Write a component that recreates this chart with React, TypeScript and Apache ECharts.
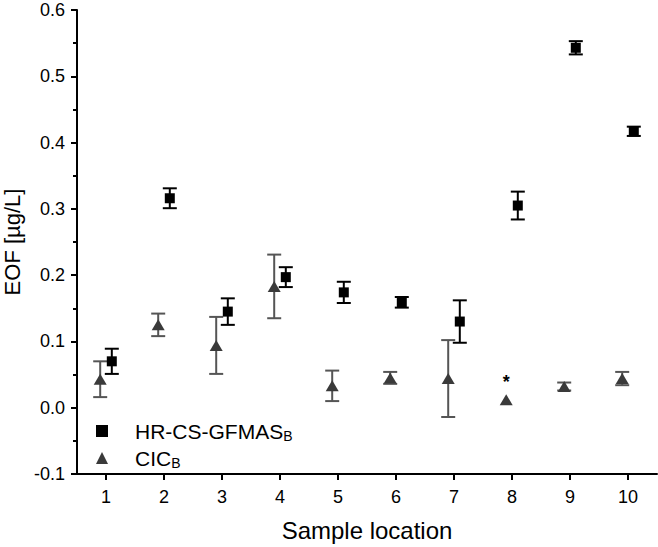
import React, { useEffect, useRef } from "react";
import * as echarts from "echarts";

const categories = [1, 2, 3, 4, 5, 6, 7, 8, 9, 10];
const hrcsValues = [0.07, 0.316, 0.145, 0.197, 0.174, 0.159, 0.13, 0.305, 0.543, 0.417];
const hrcsErrors = [0.019, 0.015, 0.02, 0.015, 0.016, 0.008, 0.032, 0.021, 0.01, 0.007];
const cicValues = [0.043, 0.125, 0.094, 0.183, 0.033, 0.045, 0.044, 0.012, 0.032, 0.044];
const cicErrors = [0.027, 0.017, 0.043, 0.048, 0.023, 0.009, 0.058, 0, 0.006, 0.01];
const cicNotes = ["", "", "", "", "", "", "", "*", "", ""];
const yTicks = [-0.1, 0.0, 0.1, 0.2, 0.3, 0.4, 0.5, 0.6];
const seriesNames = ["HR-CS-GFMAS", "CIC"];
const seriesSub = "B";

const FONT = "'Liberation Sans', Arial, Helvetica, sans-serif";
const HR_OFFSET = 0.1;
const CIC_OFFSET = -0.1;

function errRender(color: string, width: number) {
  return (params: any, api: any) => {
    const x = api.value(0);
    const lo = api.value(1);
    const hi = api.value(2);
    if (hi === lo) return { type: "group", children: [] };
    const t = api.coord([x, hi]);
    const b = api.coord([x, lo]);
    const hw = 7;
    const style = { stroke: color, lineWidth: width };
    return {
      type: "group",
      children: [
        { type: "line", shape: { x1: t[0], y1: t[1], x2: b[0], y2: b[1] }, style },
        { type: "line", shape: { x1: t[0] - hw, y1: t[1], x2: t[0] + hw, y2: t[1] }, style },
        { type: "line", shape: { x1: b[0] - hw, y1: b[1], x2: b[0] + hw, y2: b[1] }, style },
      ],
    };
  };
}

export default function App() {
  const ref = useRef<HTMLDivElement>(null);
  useEffect(() => {
    if (!ref.current) return;
    const chart = echarts.init(ref.current, undefined, { renderer: "svg" });
    const hrData = categories.map((c, i) => [c + HR_OFFSET, hrcsValues[i]]);
    const cicData = categories.map((c, i) => ({
      value: [c + CIC_OFFSET, cicValues[i]],
      label: cicNotes[i]
        ? {
            show: true,
            formatter: cicNotes[i],
            position: "top",
            distance: 3,
            fontSize: 18,
            fontWeight: "bold",
            color: "#000",
            fontFamily: FONT,
          }
        : { show: false },
    }));
    const hrErr = categories.map((c, i) => [c + HR_OFFSET, hrcsValues[i] - hrcsErrors[i], hrcsValues[i] + hrcsErrors[i]]);
    const cicErr = categories.map((c, i) => [c + CIC_OFFSET, cicValues[i] - cicErrors[i], cicValues[i] + cicErrors[i]]);

    chart.setOption({
      animation: false,
      backgroundColor: "#fff",
      textStyle: { fontFamily: FONT, color: "#000" },
      grid: { left: 77, right: 1, top: 10, bottom: 73, containLabel: false, outerBoundsMode: "none" },
      legend: {
        orient: "vertical",
        left: 96,
        top: 419,
        padding: 0,
        itemWidth: 12,
        itemHeight: 12,
        itemGap: 3,
        selectedMode: false,
        data: [
          { name: seriesNames[0], icon: "rect" },
          { name: seriesNames[1], icon: "triangle" },
        ],
        formatter: (name: string) => `{m|${name}}{s|${seriesSub}}`,
        textStyle: {
          padding: [0, 0, 0, 22],
          rich: {
            m: { fontSize: 21, fontFamily: FONT, color: "#000", lineHeight: 24 },
            s: { fontSize: 14, fontFamily: FONT, color: "#000", lineHeight: 24, verticalAlign: "bottom", padding: [10, 0, 0, 0] },
          },
        },
      },
      xAxis: {
        type: "value",
        min: 0.5,
        max: 10.5,
        name: "Sample location",
        nameLocation: "middle",
        nameGap: 44,
        nameTextStyle: { fontSize: 24, fontFamily: FONT, color: "#000" },
        axisLine: { show: true, onZero: false, lineStyle: { color: "#000", width: 2 } },
        axisTick: { show: true, inside: false, length: 6, lineStyle: { color: "#000", width: 2 }, customValues: categories },
        axisLabel: { fontSize: 18, color: "#000", margin: 14, fontFamily: FONT, customValues: categories },
        splitLine: { show: false },
      },
      yAxis: {
        type: "value",
        min: yTicks[0],
        max: yTicks[yTicks.length - 1],
        interval: 0.1,
        name: "EOF [µg/L]",
        nameLocation: "middle",
        nameRotate: 90,
        nameGap: 43,
        nameTextStyle: { fontSize: 22, fontFamily: FONT, color: "#000" },
        axisLine: { show: true, lineStyle: { color: "#000", width: 2 } },
        axisTick: { show: true, inside: false, length: 6, lineStyle: { color: "#000", width: 2 } },
        minorTick: { show: true, splitNumber: 2, length: 4, lineStyle: { color: "#000", width: 2 } },
        axisLabel: { fontSize: 18, color: "#000", margin: 12, fontFamily: FONT, formatter: (v: number) => v.toFixed(1) },
        splitLine: { show: false },
      },
      series: [
        {
          type: "custom",
          name: "hrErr",
          renderItem: errRender("#000", 2),
          data: hrErr,
          encode: { x: 0, y: [1, 2] },
          z: 2,
          silent: true,
        },
        {
          type: "custom",
          name: "cicErr",
          renderItem: errRender("#555", 2),
          data: cicErr,
          encode: { x: 0, y: [1, 2] },
          z: 2,
          silent: true,
        },
        {
          type: "scatter",
          name: seriesNames[0],
          symbol: "rect",
          symbolSize: 10,
          itemStyle: { color: "#000", opacity: 1 },
          data: hrData,
          z: 5,
        },
        {
          type: "scatter",
          name: seriesNames[1],
          symbol: "triangle",
          symbolSize: [13, 11],
          itemStyle: { color: "#3a3a3a", opacity: 1 },
          data: cicData,
          z: 5,
        },
      ],
    });
    return () => chart.dispose();
  }, []);
  return <div ref={ref} style={{ width: 658, height: 547, position: "absolute", left: 0, top: 0 }} />;
}
